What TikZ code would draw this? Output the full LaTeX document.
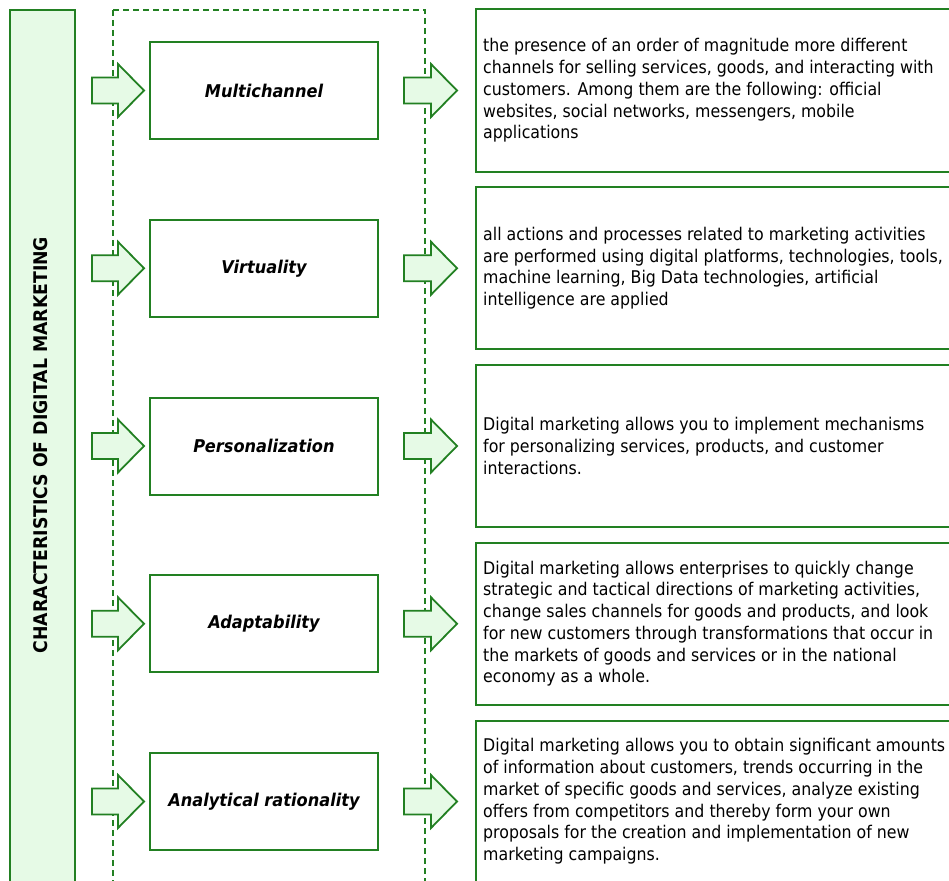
\documentclass[tikz,border=0pt]{standalone}
\usepackage{fontspec}
\setmainfont{DejaVu Sans}[FakeStretch=0.92]
\newfontfamily\bodyfont{DejaVu Sans}[FakeStretch=0.903]
\usetikzlibrary{calc}
\definecolor{edgegreen}{RGB}{34,128,34}
\definecolor{softgreen}{RGB}{230,250,230}
\tikzset{
  x=1pt, y=-1pt,
  sidebar/.style={draw=edgegreen, line width=2pt, fill=softgreen, rectangle, inner sep=0pt},
  feature/.style={draw=edgegreen, line width=2pt, fill=white, rectangle, inner sep=0pt,
    minimum width=228pt, minimum height=97pt,
    font=\fontsize{17.6}{20}\selectfont\bfseries\itshape},
  detailbox/.style={draw=edgegreen, line width=2pt, fill=white, rectangle, inner sep=0pt,
    minimum width=530pt, minimum height=162pt},
  detailtext/.style={anchor=west, inner sep=0pt, align=left,
    font=\bodyfont\fontsize{17.5}{21.75}\selectfont},
  fatarrow/.style={draw=edgegreen, line width=1.8pt, fill=softgreen, line join=miter},
  frame/.style={draw=edgegreen, line width=1.5pt, dash pattern=on 6pt off 4pt},
}
\begin{document}
\begin{tikzpicture}
\useasboundingbox (0,0) rectangle (949,880);
\clip (0,0) rectangle (949,880);

% vertical title bar
\node[sidebar, minimum width=65pt, minimum height=900pt] (bar) at (42.5,460) {};
\node[rotate=90, inner sep=0pt, font=\fontsize{18.8}{20}\selectfont\bfseries] (title) at (41,445)
  {CHARACTERISTICS OF DIGITAL MARKETING};

% dashed frame around the characteristics
\draw[frame] (113,10) -- (425,10) -- (425,900);
\draw[frame] (113,10) -- (113,900);

% characteristics
\foreach \i/\lab in {1/Multichannel, 2/Virtuality, 3/Personalization, 4/Adaptability, 5/Analytical rationality}{
  \pgfmathsetmacro{\yc}{90.5+177.75*(\i-1)}
  \node[feature] (m\i) at (264,\yc) {\lab};
  \node[detailbox, anchor=west] (d\i) at (475,\yc) {};
  \coordinate (lt\i) at ($(m\i.west)+(-5,0)$);
  \coordinate (rt\i) at ($(d\i.west)+(-18,0)$);
  \draw[fatarrow, shift={(lt\i)}] (-52,-13) -- (-26,-13) -- (-26,-26.5) -- (0,0) -- (-26,26.5) -- (-26,13) -- (-52,13) -- cycle;
  \draw[fatarrow, shift={(rt\i)}] (-53,-13) -- (-26,-13) -- (-26,-26.5) -- (0,0) -- (-26,26.5) -- (-26,13) -- (-53,13) -- cycle;
}

% descriptions
\node[detailtext] (t1) at ($(d1.west)+(8,0)$) {the presence of an order of magnitude more different\\channels for selling services, goods, and interacting with\\customers. Among them are the following: official\\websites, social networks, messengers, mobile\\applications};
\node[detailtext] (t2) at ($(d2.west)+(8,0)$) {all actions and processes related to marketing activities\\are performed using digital platforms, technologies, tools,\\machine learning, Big Data technologies, artificial\\intelligence are applied};
\node[detailtext] (t3) at ($(d3.west)+(8,0)$) {Digital marketing allows you to implement mechanisms\\for personalizing services, products, and customer\\interactions.};
\node[detailtext] (t4) at ($(d4.west)+(8,0)$) {Digital marketing allows enterprises to quickly change\\strategic and tactical directions of marketing activities,\\change sales channels for goods and products, and look\\for new customers through transformations that occur in\\the markets of goods and services or in the national\\economy as a whole.};
\node[detailtext] (t5) at ($(d5.west)+(8,0)$) {Digital marketing allows you to obtain significant amounts\\of information about customers, trends occurring in the\\market of specific goods and services, analyze existing\\offers from competitors and thereby form your own\\proposals for the creation and implementation of new\\marketing campaigns.};
\end{tikzpicture}
\end{document}
